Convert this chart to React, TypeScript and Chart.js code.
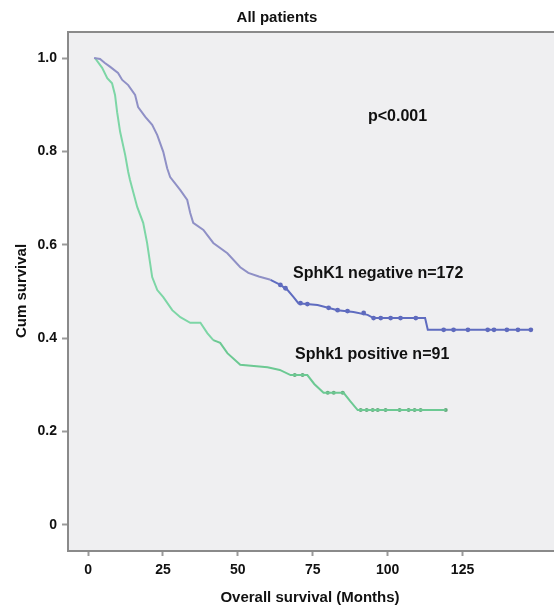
import { useEffect, useRef } from 'react';
import { Chart, registerables } from 'chart.js';
Chart.register(...registerables);

const titleText = 'All patients';
const xTitle = 'Overall survival (Months)';
const yTitle = 'Cum survival';
const pText = 'p<0.001';
const negLabel = 'SphK1 negative n=172';
const posLabel = 'Sphk1 positive n=91';

const xTicks = [0, 25, 50, 75, 100, 125];
const yTicks = [0, 0.2, 0.4, 0.6, 0.8, 1.0];

// SphK1 negative curve (months, cumulative survival)
const negMonths = [2, 4, 5.5, 7.4, 10, 11.4, 13.4, 15.7, 16.7, 19.1, 21.4, 23.1, 25.1, 26.4, 27.4, 30.8, 33.1, 34.1, 35.1, 38.5, 41.8, 46.5, 50.8, 53.5, 57, 60.9, 64.2, 66.6, 68.6, 70.2, 76.6, 83.3, 88.6, 93.3, 95.3, 112.5, 113.4, 147.8];
const negSurv = [1.0, 0.998, 0.99, 0.981, 0.968, 0.953, 0.942, 0.921, 0.895, 0.874, 0.857, 0.835, 0.799, 0.764, 0.745, 0.717, 0.696, 0.668, 0.647, 0.632, 0.604, 0.582, 0.552, 0.54, 0.532, 0.525, 0.514, 0.503, 0.488, 0.475, 0.471, 0.46, 0.456, 0.45, 0.443, 0.443, 0.418, 0.418];
// censored cases
const negCensorMonths = [64.2, 65.9, 70.9, 73.2, 80.3, 83.3, 86.6, 92, 95.3, 97.7, 101, 104.3, 109.4, 118.7, 122, 126.8, 133.4, 135.5, 139.8, 143.5, 147.8];
const negCensorSurv = [0.514, 0.507, 0.475, 0.473, 0.465, 0.46, 0.458, 0.454, 0.443, 0.443, 0.443, 0.443, 0.443, 0.418, 0.418, 0.418, 0.418, 0.418, 0.418, 0.418, 0.418];

// Sphk1 positive curve
const posMonths = [2.3, 4.7, 6.4, 8.0, 9.0, 9.7, 10.7, 12.4, 13.4, 14.0, 16.4, 18.4, 19.7, 21.4, 23.1, 25.1, 28.1, 30.8, 34.1, 37.5, 39.8, 41.8, 44.1, 46.5, 50.8, 59.9, 64, 67.6, 73.2, 75.5, 78.6, 85.3, 87.5, 90, 119.4];
const posSurv = [1.0, 0.979, 0.957, 0.946, 0.921, 0.884, 0.842, 0.792, 0.756, 0.739, 0.681, 0.647, 0.604, 0.531, 0.503, 0.488, 0.46, 0.445, 0.433, 0.433, 0.411, 0.396, 0.39, 0.368, 0.343, 0.338, 0.332, 0.321, 0.321, 0.302, 0.283, 0.283, 0.265, 0.246, 0.246];
const posCensorMonths = [69, 71.6, 80, 82, 85, 91, 93, 95, 96.7, 99.3, 104, 107, 109, 111, 119.4];
const posCensorSurv = [0.321, 0.321, 0.283, 0.283, 0.283, 0.246, 0.246, 0.246, 0.246, 0.246, 0.246, 0.246, 0.246, 0.246, 0.246];

const FONT = '"Liberation Sans", Arial, sans-serif';

export default function App() {
  const ref = useRef<HTMLCanvasElement | null>(null);
  useEffect(() => {
    if (!ref.current) return;
    const decor = {
      id: 'decor',
      beforeDraw(chart: any) {
        const { ctx, chartArea: a } = chart;
        ctx.save();
        ctx.fillStyle = '#ffffff';
        ctx.fillRect(0, 0, chart.width, chart.height);
        ctx.fillStyle = '#efeff1';
        ctx.fillRect(a.left, a.top, chart.width - a.left, a.bottom - a.top);
        ctx.restore();
      },
      afterDraw(chart: any) {
        const { ctx, chartArea: a } = chart;
        ctx.save();
        ctx.strokeStyle = '#8a8a8a';
        ctx.lineWidth = 2;
        ctx.beginPath();
        ctx.moveTo(a.left - 1, a.top);
        ctx.lineTo(chart.width, a.top);
        ctx.moveTo(a.left - 1, a.bottom);
        ctx.lineTo(chart.width, a.bottom);
        ctx.stroke();
        ctx.fillStyle = '#111';
        ctx.textAlign = 'center';
        ctx.textBaseline = 'middle';
        ctx.font = `bold 15px ${FONT}`;
        ctx.fillText(titleText, 277, 18);
        ctx.fillText(xTitle, 310, 598);
        ctx.save();
        ctx.translate(22, 291);
        ctx.rotate(-Math.PI / 2);
        ctx.fillText(yTitle, 0, 0);
        ctx.restore();
        ctx.font = `bold 16px ${FONT}`;
        ctx.textAlign = 'left';
        ctx.fillText(pText, 368, 117);
        ctx.fillText(negLabel, 293, 274);
        ctx.fillText(posLabel, 295, 355);
        ctx.restore();
      },
    };

    const negLine = negMonths.map((m, i) => ({ x: m, y: negSurv[i] }));
    const posLine = posMonths.map((m, i) => ({ x: m, y: posSurv[i] }));
    const negC = negCensorMonths.map((m, i) => ({ x: m, y: negCensorSurv[i] }));
    const posC = posCensorMonths.map((m, i) => ({ x: m, y: posCensorSurv[i] }));

    const chart = new Chart(ref.current, {
      type: 'line',
      data: {
        datasets: [
          {
            data: negLine,
            borderColor: '#8f90c6',
            borderWidth: 2,
            pointRadius: 0,
            tension: 0,
            fill: false,
            segment: {
              borderColor: (c: any) => (c.p0.parsed.x >= 58 ? '#5f6cc0' : '#8f90c6'),
            },
          },
          {
            data: posLine,
            borderColor: '#7dd6a6',
            borderWidth: 2,
            pointRadius: 0,
            tension: 0,
            fill: false,
            segment: {
              borderColor: (c: any) => (c.p0.parsed.x >= 40 ? '#6cc993' : '#7dd6a6'),
            },
          },
          {
            data: negC,
            showLine: false,
            pointRadius: 2.4,
            pointBackgroundColor: 'rgba(45,60,170,0.75)',
            pointBorderWidth: 0,
          },
          {
            data: posC,
            showLine: false,
            pointRadius: 2,
            pointBackgroundColor: 'rgba(55,145,85,0.75)',
            pointBorderWidth: 0,
          },
        ],
      } as any,
      options: {
        responsive: false,
        animation: false,
        devicePixelRatio: 1,
        layout: { padding: { top: 32, right: 0, left: 0, bottom: 0 } },
        plugins: { legend: { display: false }, tooltip: { enabled: false }, title: { display: false } },
        scales: {
          x: {
            type: 'linear',
            min: -6.7,
            max: 156.2,
            afterFit: (s: any) => { s.height = 61; s.paddingRight = 0; s.paddingLeft = 0; },
            afterBuildTicks: (s: any) => { s.ticks = xTicks.map((v) => ({ value: v })); },
            border: { display: true, color: '#8a8a8a', width: 2 },
            grid: { drawOnChartArea: false, drawTicks: true, tickLength: 5, tickColor: '#9a9a9a', tickWidth: 2 },
            ticks: {
              color: '#111',
              padding: 6,
              font: { family: FONT, size: 14, weight: 'bold' },
              callback: (v: any) => String(v),
            },
          },
          y: {
            type: 'linear',
            min: -0.0557,
            max: 1.0557,
            afterFit: (s: any) => { s.width = 68; s.paddingTop = 0; s.paddingBottom = 0; },
            afterBuildTicks: (s: any) => { s.ticks = yTicks.map((v) => ({ value: v })); },
            border: { display: true, color: '#8a8a8a', width: 2 },
            grid: { drawOnChartArea: false, drawTicks: true, tickLength: 6, tickColor: '#9a9a9a', tickWidth: 2 },
            ticks: {
              color: '#111',
              padding: 5,
              font: { family: FONT, size: 14, weight: 'bold' },
              callback: (v: any) => (v === 0 ? '0' : Number(v).toFixed(1)),
            },
          },
        },
      } as any,
      plugins: [decor],
    });
    return () => chart.destroy();
  }, []);

  return (
    <div style={{ position: 'absolute', left: 0, top: 0, width: 554, height: 612, overflow: 'hidden' }}>
      <canvas ref={ref} width={560} height={612} style={{ display: 'block', width: 560, height: 612 }} />
    </div>
  );
}
